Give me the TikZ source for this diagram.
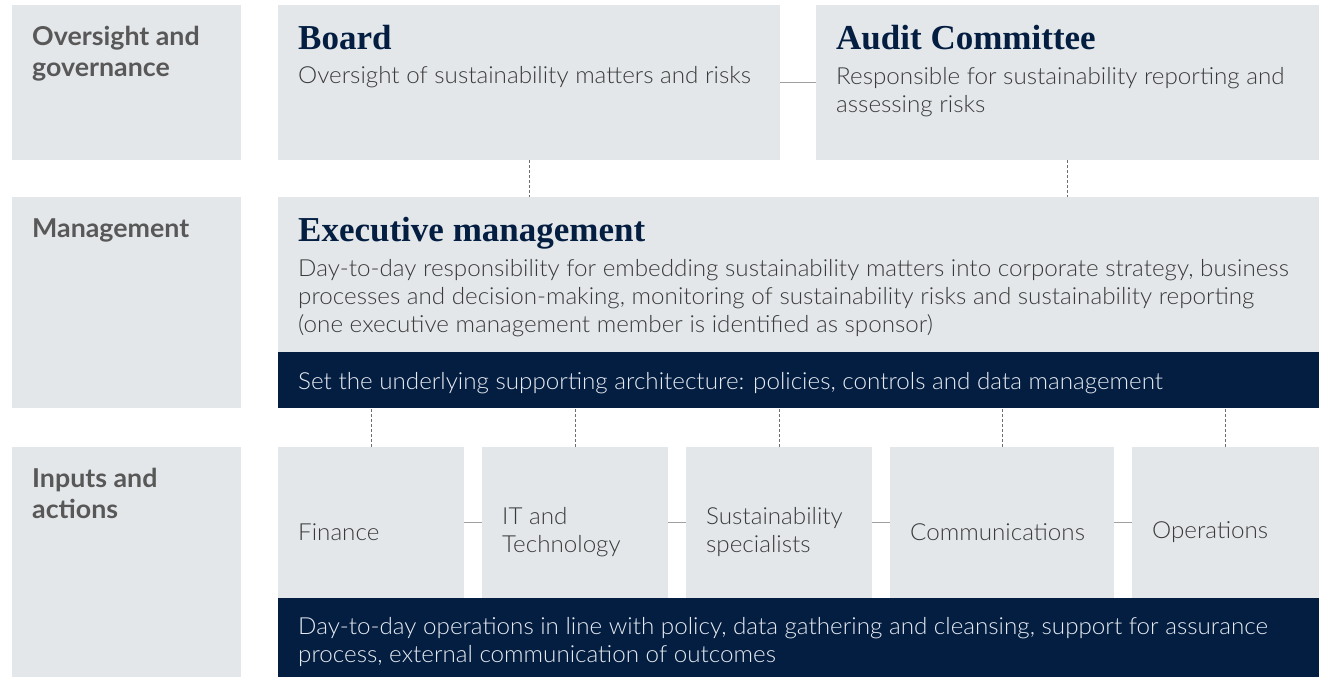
\documentclass[tikz,border=0pt]{standalone}
\usepackage{fontspec}
\setmainfont{Lato}[UprightFont=* Light, BoldFont=* Bold, FakeStretch=1.03]
\newfontfamily\headfont{Liberation Serif}
\usetikzlibrary{positioning}
\definecolor{boxgray}{HTML}{E4E7EA}
\definecolor{navy}{HTML}{041E42}
\definecolor{labelgray}{HTML}{585858}
\definecolor{bodygray}{HTML}{3A3A3A}
\definecolor{linegray}{HTML}{A0A0A0}
\definecolor{dashgray}{HTML}{6E6E6E}
\definecolor{bandtext}{HTML}{E8ECF2}

\begin{document}
\begin{tikzpicture}[x=1pt, y=-1pt,
		box/.style = {rectangle, fill=boxgray, inner sep=0, outer sep=0, anchor=north west, minimum height=151},
		band/.style = {rectangle, fill=navy, inner sep=0, outer sep=0, anchor=north west, minimum width=1041},
		lbl/.style = {anchor=base west, inner sep=0, align=left, text=labelgray, font=\fontsize{26}{31}\selectfont\bfseries},
		ttl/.style = {anchor=base west, inner sep=0, text=navy, font=\headfont\fontsize{35}{40}\selectfont\bfseries},
		txt/.style = {anchor=base west, inner sep=0, align=left, text=bodygray, font=\fontsize{23.5}{28}\selectfont},
		wtxt/.style = {txt, text=bandtext},
		unit/.style = {txt, anchor=west},
		link/.style = {draw=linegray, line width=1.5},
		vlink/.style = {draw=dashgray, line width=0.8, dash pattern=on 3pt off 2pt}
		]
		\useasboundingbox (0,0) rectangle (1319,677);
		
		% row labels (base anchor sits on the last line)
		\node[box, minimum width=229, minimum height=155]	(gov)	at (12,5)	{};
		\node[box, minimum width=229, minimum height=211]	(mgmt)	at (12,197)	{};
		\node[box, minimum width=229, minimum height=230]	(inp)	at (12,447)	{};
		\node[lbl]	at ([shift={(20,72)}]gov.north west)	{Oversight and\\governance};
		\node[lbl]	at ([shift={(20,40)}]mgmt.north west)	{Management};
		\node[lbl]	at ([shift={(20,71)}]inp.north west)	{Inputs and\\actions};
		
		%Oversight
		\node[box, minimum width=502, minimum height=155]	(board)	at (278,5)	{};
		\node[box, minimum width=503, minimum height=155, right=36pt of board]	(audit)	{};
		\node[ttl]	at ([shift={(20,44.5)}]board.north west)	{Board};
		\node[txt]	at ([shift={(20,79)}]board.north west)	{Oversight of sustainability matters and risks};
		\node[ttl]	at ([shift={(20,44.5)}]audit.north west)	{Audit Committee};
		\node[txt]	at ([shift={(20,107)}]audit.north west)	{Responsible for sustainability reporting and\\assessing risks};
		
		%Management
		\node[box, minimum width=1041, minimum height=155]	(exec)	at (278,197)	{};
		\node[band, minimum height=56, below=0pt of exec]	(arch)	{};
		\node[ttl]	at ([shift={(20,44.5)}]exec.north west)	{Executive management};
		\node[txt]	at ([shift={(20,135)}]exec.north west)	{Day-to-day responsibility for embedding sustainability matters into corporate strategy, business\\processes and decision-making, monitoring of sustainability risks and sustainability reporting\\(one executive management member is identified as sponsor)};
		\node[wtxt]	at ([shift={(20,37)}]arch.north west)	{Set the underlying supporting architecture: policies, controls and data management};
		
		%Inputs and actions
		\node[box, minimum width=186]	(fin)	at (278,447)	{};
		\node[box, minimum width=186, right=18pt of fin]	(it)	{};
		\node[box, minimum width=186, right=18pt of it]	(sus)	{};
		\node[box, minimum width=224, right=18pt of sus]	(comm)	{};
		\node[box, minimum width=187, right=18pt of comm]	(ops)	{};
		\node[band, minimum height=79]	(daily)	at (278,598)	{};
		\node[unit]	at ([shift={(20,10)}]fin.west)	{Finance};
		\node[unit]	at ([shift={(20,10)}]it.west)	{IT and\\Technology};
		\node[unit]	at ([shift={(20,10)}]sus.west)	{Sustainability\\specialists};
		\node[unit]	at ([shift={(20,10)}]comm.west)	{Communications};
		\node[unit]	at ([shift={(20,10)}]ops.west)	{Operations};
		\node[wtxt]	at ([shift={(20,64)}]daily.north west)	{Day-to-day operations in line with policy, data gathering and cleansing, support for assurance\\process, external communication of outcomes};
		
		%Lines
		\draw[link]		(board.east)	--	(audit.west);
		\draw[vlink]	(board.south)	--	(board.south |- exec.north);
		\draw[vlink]	(audit.south)	--	(audit.south |- exec.north);
		\foreach \u in {fin, it, sus, comm, ops}
			\draw[vlink]	(\u.north)	--	(\u.north |- arch.south);
		\foreach \a/\b in {fin/it, it/sus, sus/comm, comm/ops}
			\draw[link]	(\a.east)	--	(\b.west);
	\end{tikzpicture}
\end{document}
